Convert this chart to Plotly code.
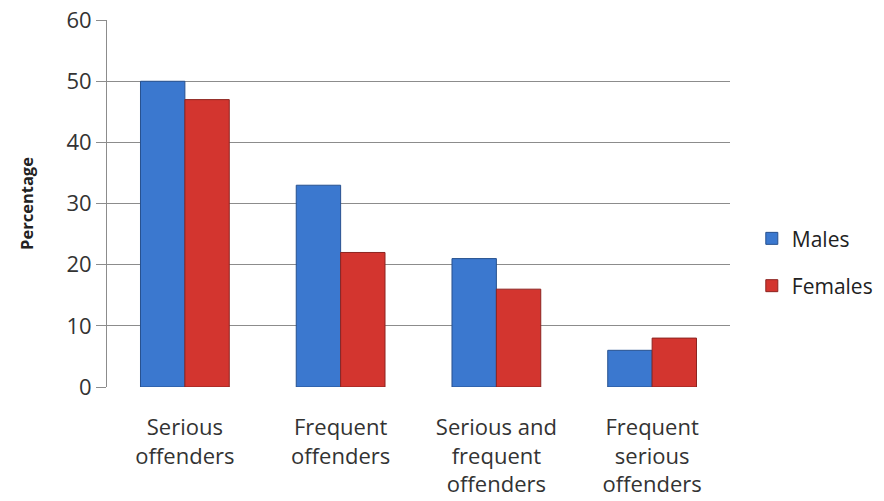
import plotly.graph_objects as go

categories = ["Serious<br>offenders", "Frequent<br>offenders", "Serious and<br>frequent<br>offenders", "Frequent<br>serious<br>offenders"]
males = [50, 33, 21, 6]
females = [47, 22, 16, 8]
y_ticks = [0, 10, 20, 30, 40, 50, 60]

font = "Open Sans, Liberation Sans, sans-serif"

fig = go.Figure()
fig.add_trace(go.Bar(name="Males", x=categories, y=males, legendgroup="m",
                     marker=dict(color="#3b78cf", line=dict(color="#27518f", width=1))))
fig.add_trace(go.Bar(name="Females", x=categories, y=females, legendgroup="f",
                     marker=dict(color="#d3352f", line=dict(color="#8c2420", width=1))))

fig.update_layout(
    width=884, height=501,
    margin=dict(l=107, r=154, t=20, b=114, autoexpand=False),
    paper_bgcolor="white", plot_bgcolor="white",
    barmode="group", bargap=0.43, bargroupgap=0,
    font=dict(family=font, size=18, color="#333333"),
    legend=dict(x=1.035, y=0.34, xanchor="left", yanchor="middle",
                traceorder="grouped", tracegroupgap=17,
                font=dict(size=21, color="#222222")),
    xaxis=dict(showline=False, ticks="", ticklabelstandoff=25, automargin=False,
               tickfont=dict(size=22, color="#333333")),
    yaxis=dict(range=[0, 60.02], tickvals=y_ticks, showgrid=True, gridcolor="#8c8c8c",
               gridwidth=1, showline=True, linecolor="#8c8c8c", ticks="outside",
               ticklen=10, tickcolor="#8c8c8c", tickwidth=1, zeroline=False, automargin=False,
               ticksuffix="\u2002\u2009",
               tickfont=dict(size=22, color="#333333"),
               title=dict(text="<b>Percentage</b>", font=dict(size=16.5, color="#222222"), standoff=28)),
)

fig.write_html("out.html")
